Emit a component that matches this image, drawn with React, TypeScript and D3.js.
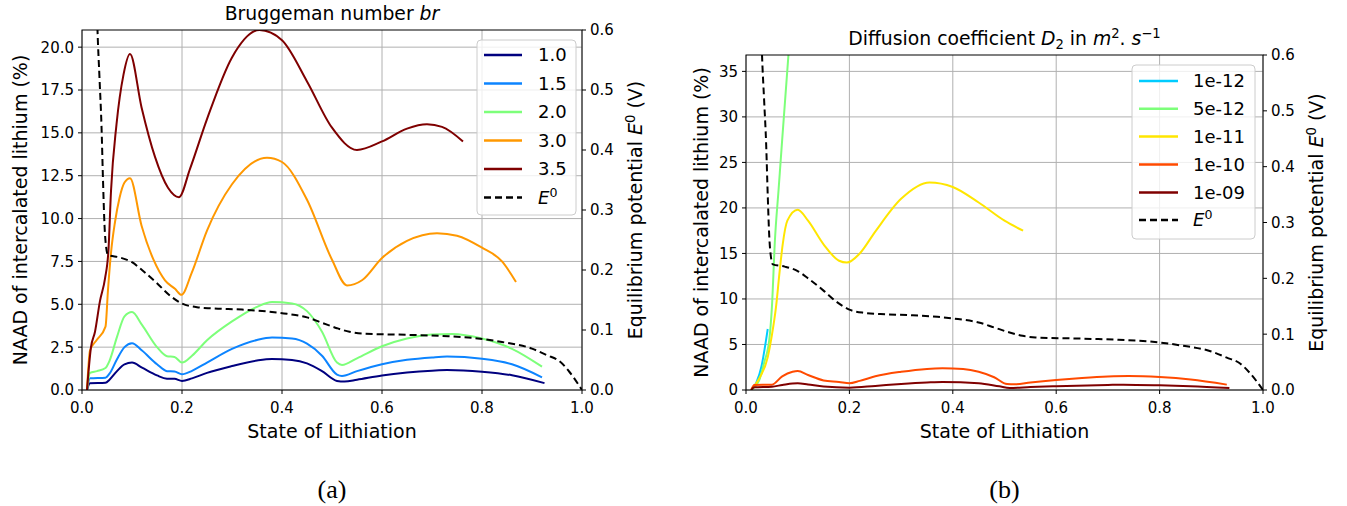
import React from "react";
import * as d3 from "d3";

type Pt = [number, number];

const FONT = "DejaVu Sans";

// ---------- shared axis data ----------
const xTicks = [0, 0.2, 0.4, 0.6, 0.8, 1.0];
const xTickLabels = ["0.0", "0.2", "0.4", "0.6", "0.8", "1.0"];
const e0Ticks = [0, 0.1, 0.2, 0.3, 0.4, 0.5, 0.6];
const e0TickLabels = ["0.0", "0.1", "0.2", "0.3", "0.4", "0.5", "0.6"];

// Equilibrium potential E0 (V) vs state of lithiation
const e0Curve: Pt[] = [
  [0.029, 0.66], [0.031, 0.6], [0.035, 0.52], [0.039, 0.44], [0.042, 0.35],
  [0.045, 0.275], [0.048, 0.24], [0.052, 0.225], [0.075, 0.221], [0.1, 0.213],
  [0.12, 0.2], [0.15, 0.178], [0.175, 0.158], [0.2, 0.144], [0.23, 0.138],
  [0.26, 0.136], [0.32, 0.134], [0.37, 0.131], [0.41, 0.127], [0.45, 0.121],
  [0.48, 0.112], [0.51, 0.103], [0.535, 0.097], [0.56, 0.094], [0.65, 0.092],
  [0.72, 0.09], [0.78, 0.087], [0.84, 0.08], [0.9, 0.069], [0.93, 0.058],
  [0.955, 0.048], [0.975, 0.03], [1.0, 0.0],
];

// ---------- panel (a): Bruggeman number ----------
const brTicks = [0, 2.5, 5, 7.5, 10, 12.5, 15, 17.5, 20];
const brTickLabels = ["0.0", "2.5", "5.0", "7.5", "10.0", "12.5", "15.0", "17.5", "20.0"];
const brLabels = ["1.0", "1.5", "2.0", "3.0", "3.5"];
const brColors = ["#00007f", "#0c84ff", "#7dff7a", "#ff9800", "#7f0000"];

const br10: Pt[] = [
  [0.01, 0], [0.016, 0.39], [0.047, 0.42], [0.055, 0.6], [0.07, 1.1], [0.085, 1.5],
  [0.1, 1.6], [0.12, 1.3], [0.15, 0.85], [0.17, 0.66], [0.185, 0.65], [0.2, 0.53],
  [0.22, 0.68], [0.25, 1.0], [0.3, 1.4], [0.35, 1.72], [0.38, 1.81], [0.42, 1.75],
  [0.45, 1.55], [0.48, 1.1], [0.51, 0.53], [0.525, 0.49], [0.55, 0.6], [0.6, 0.85],
  [0.65, 1.02], [0.7, 1.13], [0.73, 1.17], [0.8, 1.07], [0.86, 0.86], [0.925, 0.4],
];
const br15: Pt[] = [
  [0.01, 0], [0.016, 0.68], [0.047, 0.72], [0.055, 0.95], [0.07, 1.8], [0.085, 2.5],
  [0.1, 2.73], [0.12, 2.3], [0.15, 1.5], [0.17, 1.1], [0.185, 1.08], [0.2, 0.92],
  [0.22, 1.12], [0.25, 1.6], [0.3, 2.4], [0.35, 2.92], [0.38, 3.06], [0.42, 3.0],
  [0.45, 2.7], [0.48, 2.0], [0.51, 0.9], [0.52, 0.82], [0.55, 1.1], [0.6, 1.5],
  [0.65, 1.76], [0.7, 1.9], [0.73, 1.95], [0.8, 1.82], [0.86, 1.5], [0.92, 0.74],
];
const br20: Pt[] = [
  [0.01, 0], [0.016, 1.0], [0.03, 1.1], [0.047, 1.28], [0.055, 1.7], [0.07, 3.1],
  [0.085, 4.3], [0.1, 4.55], [0.12, 3.8], [0.15, 2.5], [0.17, 1.97], [0.185, 1.93],
  [0.2, 1.6], [0.22, 2.0], [0.25, 2.9], [0.3, 4.0], [0.35, 4.85], [0.38, 5.13],
  [0.42, 5.05], [0.45, 4.6], [0.48, 3.4], [0.51, 1.6], [0.52, 1.46], [0.55, 1.85],
  [0.6, 2.55], [0.65, 3.0], [0.7, 3.24], [0.74, 3.27], [0.8, 3.0], [0.86, 2.4],
  [0.92, 1.36],
];
const br30: Pt[] = [
  [0.01, 0], [0.016, 2.3], [0.029, 2.9], [0.047, 3.7], [0.052, 5.85], [0.058, 8.0],
  [0.066, 9.8], [0.075, 11.2], [0.085, 12.1], [0.096, 12.35], [0.119, 9.6],
  [0.143, 7.6], [0.166, 6.4], [0.186, 5.9], [0.199, 5.55], [0.219, 6.8], [0.25, 9.3],
  [0.3, 12.0], [0.37, 13.55], [0.4, 13.3], [0.45, 11.1], [0.5, 7.6], [0.53, 6.1],
  [0.56, 6.4], [0.6, 7.7], [0.65, 8.7], [0.71, 9.15], [0.75, 9.0], [0.8, 8.3],
  [0.84, 7.5], [0.868, 6.3],
];
const br35: Pt[] = [
  [0.01, 0], [0.018, 2.5], [0.026, 3.4], [0.036, 5.2], [0.046, 6.5], [0.053, 8.2],
  [0.058, 11.6], [0.069, 15.5], [0.083, 18.4], [0.096, 19.6], [0.119, 16.5],
  [0.146, 13.6], [0.172, 11.8], [0.194, 11.25], [0.216, 12.9], [0.25, 15.8],
  [0.3, 19.4], [0.355, 21.0], [0.4, 20.4], [0.45, 18.0], [0.5, 15.3], [0.55, 14.0],
  [0.6, 14.5], [0.65, 15.25], [0.69, 15.5], [0.72, 15.35], [0.762, 14.5],
];

// ---------- panel (b): diffusion coefficient ----------
const dTicks = [0, 5, 10, 15, 20, 25, 30, 35];
const dTickLabels = ["0", "5", "10", "15", "20", "25", "30", "35"];
const dLabels = ["1e-12", "5e-12", "1e-11", "1e-10", "1e-09"];
const dColors = ["#00ccff", "#7dff7a", "#ffe600", "#ff4a00", "#7f0000"];

const d1e12: Pt[] = [
  [0.01, 0], [0.02, 0.8], [0.03, 2.6], [0.036, 4.5], [0.042, 6.7],
];
const d5e12: Pt[] = [
  [0.01, 0], [0.025, 1.0], [0.035, 3.0], [0.045, 5.5], [0.05, 9.0], [0.056, 16.5],
  [0.063, 22.0], [0.07, 27.5], [0.083, 37.5],
];
const d1e11: Pt[] = [
  [0.01, 0], [0.025, 1.2], [0.042, 3.6], [0.05, 6.0], [0.058, 9.1], [0.065, 13.0],
  [0.071, 16.0], [0.08, 18.6], [0.1, 19.8], [0.12, 18.6], [0.15, 16.0], [0.18, 14.2],
  [0.195, 14.0], [0.22, 15.0], [0.25, 17.4], [0.3, 21.0], [0.355, 22.8], [0.4, 22.3],
  [0.45, 20.6], [0.5, 18.6], [0.536, 17.5],
];
const d1e10: Pt[] = [
  [0.01, 0], [0.016, 0.55], [0.05, 0.58], [0.07, 1.5], [0.09, 2.0], [0.1, 2.08],
  [0.12, 1.65], [0.15, 1.05], [0.18, 0.88], [0.2, 0.73], [0.22, 1.0], [0.25, 1.5],
  [0.3, 2.0], [0.35, 2.32], [0.38, 2.38], [0.42, 2.3], [0.45, 2.0], [0.48, 1.4],
  [0.505, 0.65], [0.52, 0.62], [0.55, 0.82], [0.6, 1.1], [0.65, 1.32], [0.7, 1.48],
  [0.74, 1.53], [0.8, 1.42], [0.86, 1.15], [0.93, 0.59],
];
const d1e09: Pt[] = [
  [0.01, 0], [0.016, 0.3], [0.05, 0.37], [0.07, 0.55], [0.09, 0.72], [0.1, 0.73],
  [0.12, 0.6], [0.15, 0.38], [0.2, 0.26], [0.25, 0.45], [0.3, 0.66], [0.35, 0.82],
  [0.38, 0.88], [0.45, 0.75], [0.49, 0.4], [0.51, 0.22], [0.55, 0.32], [0.6, 0.42],
  [0.7, 0.56], [0.73, 0.59], [0.8, 0.52], [0.86, 0.42], [0.935, 0.22],
];

const brSeries = [br10, br15, br20, br30, br35];
const dSeries = [d1e12, d5e12, d1e11, d1e10, d1e09];

type PanelProps = {
  id: string;
  x0: number; x1: number; y0: number; y1: number;
  yMax: number;
  yTicks: number[]; yTickLabels: string[];
  series: Pt[][]; colors: string[]; labels: string[];
  legend: { x: number; y: number; w: number; h: number; rows: number[]; lineX0: number; lineX1: number; textX: number };
  title: React.ReactNode; titleY: number;
  yLabelX: number; e0LabelX: number; caption: string;
};

function E0Text() {
  return (
    <>
      <tspan fontStyle="italic">E</tspan>
      <tspan fontSize="70%" dy={-7}>0</tspan>
    </>
  );
}

function Panel(p: PanelProps) {
  const x = d3.scaleLinear().domain([0, 1]).range([p.x0, p.x1]);
  const y = d3.scaleLinear().domain([0, p.yMax]).range([p.y1, p.y0]);
  const yE = d3.scaleLinear().domain([0, 0.6]).range([p.y1, p.y0]);
  const line = d3.line<Pt>().x((d) => x(d[0])).y((d) => y(d[1])).curve(d3.curveMonotoneX);
  const lineE = d3.line<Pt>().x((d) => x(d[0])).y((d) => yE(d[1])).curve(d3.curveMonotoneX);
  const cx = (p.x0 + p.x1) / 2;
  const cy = (p.y0 + p.y1) / 2;
  const tickFs = 15;
  return (
    <g fontFamily={FONT}>
      <defs>
        <clipPath id={p.id}>
          <rect x={p.x0} y={p.y0} width={p.x1 - p.x0} height={p.y1 - p.y0} />
        </clipPath>
      </defs>
      {/* grid */}
      <g stroke="#b0b0b0" strokeWidth={1}>
        {xTicks.map((t) => (
          <line key={"gx" + t} x1={x(t)} x2={x(t)} y1={p.y0} y2={p.y1} />
        ))}
        {p.yTicks.map((t) => (
          <line key={"gy" + t} x1={p.x0} x2={p.x1} y1={y(t)} y2={y(t)} />
        ))}
      </g>
      {/* series */}
      <g clipPath={`url(#${p.id})`} fill="none">
        {p.series.map((s, i) => (
          <path key={i} d={line(s) || ""} stroke={p.colors[i]} strokeWidth={2} />
        ))}
        <path d={lineE(e0Curve) || ""} stroke="#000" strokeWidth={2} strokeDasharray="7,4" />
      </g>
      {/* spines */}
      <rect x={p.x0} y={p.y0} width={p.x1 - p.x0} height={p.y1 - p.y0} fill="none" stroke="#000" strokeWidth={1} />
      {/* x ticks */}
      {xTicks.map((t, i) => (
        <g key={"xt" + t}>
          <line x1={x(t)} x2={x(t)} y1={p.y1} y2={p.y1 + 4} stroke="#000" />
          <text x={x(t)} y={p.y1 + 23} fontSize={tickFs} textAnchor="middle">{xTickLabels[i]}</text>
        </g>
      ))}
      {/* left y ticks */}
      {p.yTicks.map((t, i) => (
        <g key={"yt" + t}>
          <line x1={p.x0 - 4} x2={p.x0} y1={y(t)} y2={y(t)} stroke="#000" />
          <text x={p.x0 - 8} y={y(t)} dy="0.36em" fontSize={tickFs} textAnchor="end">{p.yTickLabels[i]}</text>
        </g>
      ))}
      {/* right y ticks */}
      {e0Ticks.map((t, i) => (
        <g key={"et" + t}>
          <line x1={p.x1} x2={p.x1 + 4} y1={yE(t)} y2={yE(t)} stroke="#000" />
          <text x={p.x1 + 8} y={yE(t)} dy="0.36em" fontSize={tickFs} textAnchor="start">{e0TickLabels[i]}</text>
        </g>
      ))}
      {/* legend */}
      <rect x={p.legend.x} y={p.legend.y} width={p.legend.w} height={p.legend.h} rx={4} fill="#fff" fillOpacity={0.8} stroke="#cccccc" />
      {p.labels.map((lb, i) => (
        <g key={"lg" + lb}>
          <line x1={p.legend.lineX0} x2={p.legend.lineX1} y1={p.legend.rows[i]} y2={p.legend.rows[i]} stroke={p.colors[i]} strokeWidth={2.6} />
          <text x={p.legend.textX} y={p.legend.rows[i]} dy="0.36em" fontSize={18}>{lb}</text>
        </g>
      ))}
      <line x1={p.legend.lineX0} x2={p.legend.lineX1} y1={p.legend.rows[5]} y2={p.legend.rows[5]} stroke="#000" strokeWidth={2.6} strokeDasharray="7,4" />
      <text x={p.legend.textX} y={p.legend.rows[5]} dy="0.36em" fontSize={18}><E0Text /></text>
      {/* title */}
      <text x={cx} y={p.titleY} fontSize={18.8} textAnchor="middle">{p.title}</text>
      {/* axis labels */}
      <text x={cx} y={p.y1 + 48} fontSize={19} textAnchor="middle">State of Lithiation</text>
      <text transform={`translate(${p.yLabelX},${cy}) rotate(-90)`} fontSize={19} textAnchor="middle">NAAD of intercalated lithium (%)</text>
      <text transform={`translate(${p.e0LabelX},${(p.y0 + p.y1) / 2}) rotate(-90)`} fontSize={19} textAnchor="middle">
        Equilibrium potential <E0Text /><tspan dy={7}> (V)</tspan>
      </text>
      {/* caption */}
      <text x={cx} y={498} fontSize={26} fontFamily="Liberation Serif" textAnchor="middle">{p.caption}</text>
    </g>
  );
}

export default function App() {
  return (
    <svg width={1347} height={506} style={{ display: "block", position: "absolute", left: 0, top: 0 }}>
      <rect width={1347} height={506} fill="#fff" />
      <Panel
        id="clipA"
        x0={82} x1={582} y0={30} y1={390}
        yMax={21}
        yTicks={brTicks} yTickLabels={brTickLabels}
        series={brSeries} colors={brColors} labels={brLabels}
        legend={{ x: 477, y: 40, w: 99, h: 175, rows: [55, 83.5, 112, 140.5, 169, 197.5], lineX0: 484, lineX1: 522, textX: 538 }}
        title={<>Bruggeman number <tspan fontStyle="italic">br</tspan></>}
        titleY={20}
        yLabelX={27} e0LabelX={642}
        caption="(a)"
      />
      <Panel
        id="clipB"
        x0={746} x1={1263} y0={55} y1={390}
        yMax={36.8}
        yTicks={dTicks} yTickLabels={dTickLabels}
        series={dSeries} colors={dColors} labels={dLabels}
        legend={{ x: 1132, y: 65, w: 123, h: 174, rows: [81, 108.7, 136.5, 164.5, 192.5, 220], lineX0: 1139, lineX1: 1178, textX: 1193 }}
        title={
          <>
            Diffusion coefficient <tspan fontStyle="italic">D</tspan>
            <tspan fontSize="70%" dy={4}>2</tspan>
            <tspan dy={-4}> in </tspan>
            <tspan fontStyle="italic">m</tspan>
            <tspan fontSize="70%" dy={-7}>2</tspan>
            <tspan dy={7}>. </tspan>
            <tspan fontStyle="italic">s</tspan>
            <tspan fontSize="70%" dy={-7}>−1</tspan>
          </>
        }
        titleY={45}
        yLabelX={708} e0LabelX={1323}
        caption="(b)"
      />
    </svg>
  );
}
